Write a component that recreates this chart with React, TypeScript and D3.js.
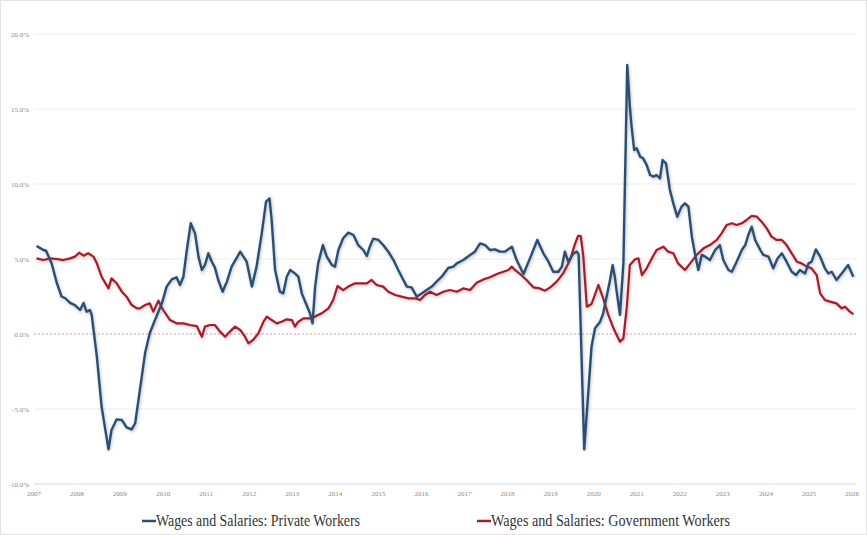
import * as d3 from "d3";

// years (decimal) and % values
const privateYears = [
  2007.06, 2007.22, 2007.28, 2007.41, 2007.53, 2007.64, 2007.72, 2007.84, 2007.95, 2008.07,
  2008.15, 2008.22, 2008.3, 2008.34, 2008.46, 2008.57, 2008.73, 2008.8, 2008.92, 2009.04,
  2009.15, 2009.27, 2009.35, 2009.46, 2009.58, 2009.69, 2009.81, 2009.97, 2010.08, 2010.2,
  2010.31, 2010.39, 2010.47, 2010.55, 2010.64, 2010.74, 2010.82, 2010.9, 2010.97, 2011.05,
  2011.13, 2011.2, 2011.28, 2011.38, 2011.48, 2011.59, 2011.79, 2011.94, 2012.06, 2012.17,
  2012.29, 2012.39, 2012.47, 2012.52, 2012.6, 2012.71, 2012.79, 2012.87, 2012.95, 2013.06,
  2013.14, 2013.22, 2013.33, 2013.41, 2013.47, 2013.53, 2013.6, 2013.71, 2013.8, 2013.92,
  2013.99, 2014.07, 2014.18, 2014.3, 2014.42, 2014.53, 2014.65, 2014.73, 2014.8, 2014.88,
  2015.0, 2015.11, 2015.23, 2015.35, 2015.46, 2015.58, 2015.66, 2015.77, 2015.89, 2016.01,
  2016.12, 2016.24, 2016.35, 2016.47, 2016.62, 2016.74, 2016.82, 2016.97, 2017.13, 2017.24,
  2017.36, 2017.48, 2017.59, 2017.71, 2017.82, 2017.94, 2018.1, 2018.21, 2018.37, 2018.52,
  2018.69, 2018.83, 2018.95, 2019.06, 2019.18, 2019.26, 2019.33, 2019.41, 2019.53, 2019.61,
  2019.65, 2019.78, 2019.95, 2020.03, 2020.15, 2020.22, 2020.3, 2020.38, 2020.44, 2020.49,
  2020.53, 2020.61, 2020.69, 2020.78, 2020.84, 2020.88, 2020.94, 2021.0, 2021.08, 2021.15,
  2021.23, 2021.31, 2021.39, 2021.46, 2021.54, 2021.6, 2021.68, 2021.77, 2021.85, 2021.94,
  2022.04, 2022.12, 2022.2, 2022.28, 2022.35, 2022.43, 2022.51, 2022.59, 2022.7, 2022.82,
  2022.93, 2023.01, 2023.13, 2023.21, 2023.32, 2023.44, 2023.52, 2023.59, 2023.67, 2023.75,
  2023.87, 2023.94, 2024.06, 2024.17, 2024.27, 2024.37, 2024.48, 2024.6, 2024.7, 2024.79,
  2024.91, 2024.99, 2025.06, 2025.16, 2025.26, 2025.37, 2025.45, 2025.53, 2025.64, 2025.76,
  2025.91, 2026.03,
];
const privateValues = [
  5.87, 5.6, 5.55, 4.7, 3.4, 2.5, 2.4, 2.07, 1.93, 1.6,
  2.07, 1.49, 1.6, 1.27, -1.51, -4.84, -7.69, -6.4, -5.69, -5.73,
  -6.22, -6.36, -5.95, -3.73, -1.27, 0.07, 0.93, 2.04, 3.16, 3.64,
  3.78, 3.27, 3.82, 5.6, 7.38, 6.71, 5.16, 4.27, 4.6, 5.38,
  4.82, 4.44, 3.6, 2.82, 3.49, 4.49, 5.49, 4.82, 3.16, 4.49,
  6.71, 8.82, 9.04, 7.6, 4.27, 2.82, 2.71, 3.82, 4.27, 4.04,
  3.82, 2.71, 1.93, 1.38, 0.71, 3.16, 4.71, 5.93, 5.16, 4.6,
  4.49, 5.6, 6.38, 6.76, 6.6, 5.93, 5.6, 5.2, 5.82, 6.36,
  6.27, 5.93, 5.49, 4.93, 4.27, 3.6, 3.16, 3.11, 2.49, 2.71,
  2.93, 3.16, 3.49, 3.82, 4.4, 4.49, 4.71, 4.93, 5.27, 5.49,
  6.04, 5.93, 5.6, 5.64, 5.49, 5.49, 5.82, 4.93, 4.0, 5.04,
  6.27, 5.38, 4.82, 4.15, 4.15, 4.49, 5.49, 4.82, 5.38, 5.49,
  5.3, -7.69, -0.84, 0.38, 0.82, 1.38, 2.49, 3.6, 4.6, 3.82,
  2.93, 1.27, 4.71, 17.93, 15.16, 13.82, 12.27, 12.38, 11.82, 11.71,
  11.27, 10.6, 10.49, 10.6, 10.38, 11.6, 11.38, 9.6, 8.71, 7.82,
  8.49, 8.71, 8.49, 6.49, 5.38, 4.27, 5.27, 5.16, 4.93, 5.6,
  5.93, 4.93, 4.27, 4.15, 4.82, 5.6, 5.93, 6.6, 7.15, 6.27,
  5.6, 5.27, 5.16, 4.38, 5.04, 5.38, 4.82, 4.15, 3.93, 4.27,
  4.04, 4.71, 4.82, 5.64, 5.16, 4.38, 4.04, 4.15, 3.6, 4.04,
  4.6, 3.82,
];

const governmentYears = [
  2007.06, 2007.22, 2007.37, 2007.53, 2007.68, 2007.84, 2007.95, 2008.05, 2008.15, 2008.26,
  2008.38, 2008.46, 2008.57, 2008.73, 2008.8, 2008.92, 2009.04, 2009.15, 2009.27, 2009.39,
  2009.46, 2009.58, 2009.69, 2009.77, 2009.89, 2010.0, 2010.16, 2010.31, 2010.47, 2010.62,
  2010.78, 2010.9, 2010.97, 2011.09, 2011.2, 2011.32, 2011.44, 2011.55, 2011.67, 2011.79,
  2011.9, 2011.98, 2012.09, 2012.21, 2012.33, 2012.41, 2012.52, 2012.64, 2012.75, 2012.87,
  2012.99, 2013.06, 2013.14, 2013.26, 2013.41, 2013.53, 2013.68, 2013.84, 2013.95, 2014.05,
  2014.18, 2014.3, 2014.46, 2014.61, 2014.73, 2014.84, 2014.96, 2015.11, 2015.23, 2015.39,
  2015.54, 2015.69, 2015.85, 2015.97, 2016.08, 2016.2, 2016.35, 2016.51, 2016.66, 2016.82,
  2016.97, 2017.13, 2017.28, 2017.44, 2017.59, 2017.75, 2017.9, 2018.02, 2018.1, 2018.17,
  2018.29, 2018.44, 2018.6, 2018.75, 2018.87, 2018.99, 2019.14, 2019.29, 2019.45, 2019.57,
  2019.64, 2019.7, 2019.76, 2019.84, 2019.95, 2020.11, 2020.22, 2020.34, 2020.46, 2020.61,
  2020.69, 2020.77, 2020.84, 2020.96, 2021.04, 2021.12, 2021.23, 2021.35, 2021.46, 2021.62,
  2021.73, 2021.85, 2021.96, 2022.12, 2022.24, 2022.39, 2022.55, 2022.7, 2022.86, 2022.97,
  2023.09, 2023.21, 2023.32, 2023.44, 2023.55, 2023.67, 2023.79, 2023.9, 2024.02, 2024.13,
  2024.25, 2024.37, 2024.48, 2024.6, 2024.72, 2024.83, 2024.95, 2025.06, 2025.18, 2025.26,
  2025.37, 2025.49, 2025.64, 2025.76, 2025.84, 2025.95, 2026.03,
];
const governmentValues = [
  5.04, 4.93, 5.04, 5.0, 4.93, 5.04, 5.16, 5.42, 5.22, 5.38,
  5.16, 4.71, 3.82, 3.04, 3.71, 3.38, 2.82, 2.49, 1.93, 1.71,
  1.71, 1.93, 2.04, 1.49, 2.22, 1.6, 0.93, 0.71, 0.71, 0.6,
  0.53, -0.18, 0.49, 0.6, 0.6, 0.16, -0.18, 0.16, 0.49, 0.27,
  -0.18, -0.62, -0.4, 0.04, 0.82, 1.16, 0.93, 0.71, 0.82, 0.98,
  0.93, 0.49, 0.82, 1.04, 1.04, 1.16, 1.38, 1.71, 2.27, 3.2,
  2.93, 3.16, 3.38, 3.38, 3.38, 3.6, 3.27, 3.16, 2.82, 2.6,
  2.49, 2.38, 2.38, 2.27, 2.6, 2.82, 2.6, 2.82, 2.93, 2.82,
  3.04, 2.93, 3.42, 3.64, 3.78, 4.0, 4.15, 4.27, 4.49, 4.27,
  4.0, 3.6, 3.11, 3.04, 2.89, 3.11, 3.49, 4.04, 4.93, 6.04,
  6.55, 6.53, 5.16, 1.82, 2.0, 3.27, 2.38, 1.27, 0.38, -0.51,
  -0.29, 1.82, 4.6, 4.98, 5.04, 3.93, 4.38, 5.04, 5.6, 5.82,
  5.49, 5.38, 4.71, 4.27, 4.71, 5.27, 5.71, 5.93, 6.27, 6.71,
  7.27, 7.38, 7.27, 7.38, 7.6, 7.87, 7.82, 7.49, 7.04, 6.49,
  6.27, 6.27, 5.93, 5.38, 4.82, 4.71, 4.49, 4.38, 3.93, 2.71,
  2.27, 2.16, 2.04, 1.71, 1.82, 1.49, 1.33,
];

const yTicks = [-10, -5, 0, 5, 10, 15, 20];
const xTicks = d3.range(2007, 2027);
const seriesNames = [
  "Wages and Salaries: Private Workers",
  "Wages and Salaries: Government Workers",
];

const W = 867;
const H = 535;
const blue = "#2c4e72";
const red = "#a51d2a";
const serif = "Liberation Serif";

export default function App() {
  const x = d3.scaleLinear().domain([2007, 2026]).range([34, 852]);
  const y = d3.scaleLinear().domain([-10, 20]).range([484, 34]);

  const line = d3
    .line<[number, number]>()
    .x((d) => x(d[0]))
    .y((d) => y(d[1]));

  const priv = privateYears.map((t, i) => [t, privateValues[i]] as [number, number]);
  const gov = governmentYears.map((t, i) => [t, governmentValues[i]] as [number, number]);

  return (
    <svg
      width={W}
      height={H}
      style={{ position: "absolute", left: 0, top: 0, background: "#fff" }}
    >
      <defs>
        <filter id="glow" x="-5%" y="-5%" width="110%" height="110%">
          <feGaussianBlur stdDeviation="1.5" />
        </filter>
      </defs>
      <rect x={0.5} y={0.5} width={W - 1} height={H - 1} fill="none" stroke="#e4e4e4" />

      {yTicks.map((t) => (
        <g key={t}>
          {t !== 0 && (
            <line
              x1={34}
              x2={856}
              y1={y(t)}
              y2={y(t)}
              stroke={t === -10 ? "#d8d8d8" : "#ececec"}
              strokeWidth={1}
            />
          )}
          <text
            x={29}
            y={y(t) + 2.5}
            textAnchor="end"
            fontSize={7}
            fill="#8a8a8a"
            fontFamily={serif}
          >
            {t.toFixed(1)}%
          </text>
        </g>
      ))}
      <line
        x1={34}
        x2={856}
        y1={y(0)}
        y2={y(0)}
        stroke="#e59aa0"
        strokeWidth={1}
        strokeDasharray="2,2"
      />

      {xTicks.map((t) => (
        <text
          key={t}
          x={x(t)}
          y={496}
          textAnchor="middle"
          fontSize={7}
          fill="#8a8a8a"
          fontFamily={serif}
        >
          {t}
        </text>
      ))}

      <g transform="translate(0.8,1.2)" opacity={0.35} filter="url(#glow)">
        <path d={line(gov) ?? ""} fill="none" stroke="#8a6a6e" strokeWidth={3} />
        <path d={line(priv) ?? ""} fill="none" stroke="#5a6a80" strokeWidth={3} />
      </g>
      <path d={line(gov) ?? ""} fill="none" stroke={red} strokeWidth={2.2} strokeLinejoin="round" />
      <path d={line(priv) ?? ""} fill="none" stroke={blue} strokeWidth={2.4} strokeLinejoin="round" />

      <line x1={142} x2={156} y1={521} y2={521} stroke={blue} strokeWidth={2.5} />
      <text
        x={156}
        y={526}
        fontSize={16}
        fill="#333"
        fontFamily={serif}
        textLength={204}
        lengthAdjust="spacingAndGlyphs"
      >
        {seriesNames[0]}
      </text>
      <line x1={477} x2={491} y1={521} y2={521} stroke={red} strokeWidth={2.5} />
      <text
        x={491}
        y={526}
        fontSize={16}
        fill="#333"
        fontFamily={serif}
        textLength={239}
        lengthAdjust="spacingAndGlyphs"
      >
        {seriesNames[1]}
      </text>
    </svg>
  );
}
